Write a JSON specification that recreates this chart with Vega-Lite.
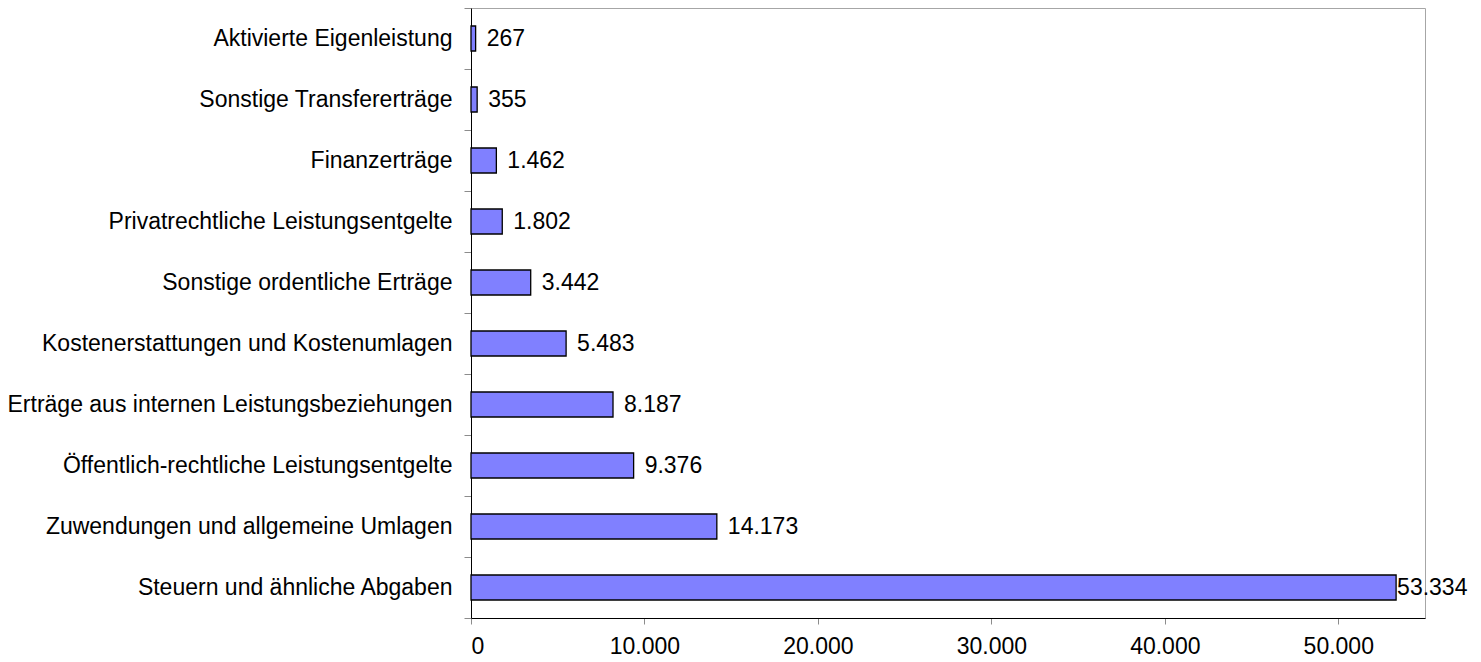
{
  "$schema": "https://vega.github.io/schema/vega-lite/v6.json",
  "width": 954,
  "height": 610,
  "autosize": {"type": "none"},
  "padding": {"left": 471, "top": 8, "right": 56, "bottom": 44},
  "background": "white",
  "data": {
    "values": [
      {"kategorie": "Aktivierte Eigenleistung", "wert": 267},
      {"kategorie": "Sonstige Transfererträge", "wert": 355},
      {"kategorie": "Finanzerträge", "wert": 1462},
      {"kategorie": "Privatrechtliche Leistungsentgelte", "wert": 1802},
      {"kategorie": "Sonstige ordentliche Erträge", "wert": 3442},
      {"kategorie": "Kostenerstattungen und Kostenumlagen", "wert": 5483},
      {"kategorie": "Erträge aus internen Leistungsbeziehungen", "wert": 8187},
      {"kategorie": "Öffentlich-rechtliche Leistungsentgelte", "wert": 9376},
      {"kategorie": "Zuwendungen und allgemeine Umlagen", "wert": 14173},
      {"kategorie": "Steuern und ähnliche Abgaben", "wert": 53334}
    ]
  },
  "encoding": {
    "y": {
      "field": "kategorie",
      "type": "nominal",
      "sort": null,
      "title": null,
      "scale": {"paddingInner": 0, "paddingOuter": 0},
      "axis": {
        "tickBand": "extent",
        "tickSize": 7,
        "tickColor": "#8c8c8c",
        "domainColor": "black",
        "labelPadding": 12,
        "labelLimit": 600
      }
    },
    "x": {
      "field": "wert",
      "type": "quantitative",
      "title": null,
      "scale": {"domain": [0, 55000], "nice": false},
      "axis": {
        "values": [0, 10000, 20000, 30000, 40000, 50000],
        "format": ",d",
        "grid": false,
        "tickSize": 6,
        "tickColor": "#8c8c8c",
        "domainColor": "black",
        "labelPadding": 11
      }
    }
  },
  "layer": [
    {
      "mark": {"type": "bar", "height": {"band": 0.41}, "fill": "#8080ff", "stroke": "black", "strokeWidth": 1.3}
    },
    {
      "transform": [{"filter": "datum.wert < 50000"}],
      "mark": {"type": "text", "align": "left", "baseline": "middle", "dx": 11, "fontSize": 23, "color": "black"},
      "encoding": {"text": {"field": "wert", "type": "quantitative", "format": ",d"}}
    },
    {
      "transform": [{"filter": "datum.wert >= 50000"}],
      "mark": {"type": "text", "align": "left", "baseline": "middle", "dx": 1, "fontSize": 23, "color": "black"},
      "encoding": {"text": {"field": "wert", "type": "quantitative", "format": ",d"}}
    }
  ],
  "config": {
    "locale": {
      "number": {"decimal": ",", "thousands": ".", "grouping": [3], "currency": ["", " €"]}
    },
    "font": "Liberation Sans",
    "view": {"stroke": "#a6a6a6", "strokeWidth": 1},
    "axis": {
      "labelFont": "Liberation Sans",
      "labelFontSize": 23,
      "labelColor": "black",
      "domainWidth": 1,
      "tickWidth": 1
    },
    "text": {"font": "Liberation Sans"}
  }
}
